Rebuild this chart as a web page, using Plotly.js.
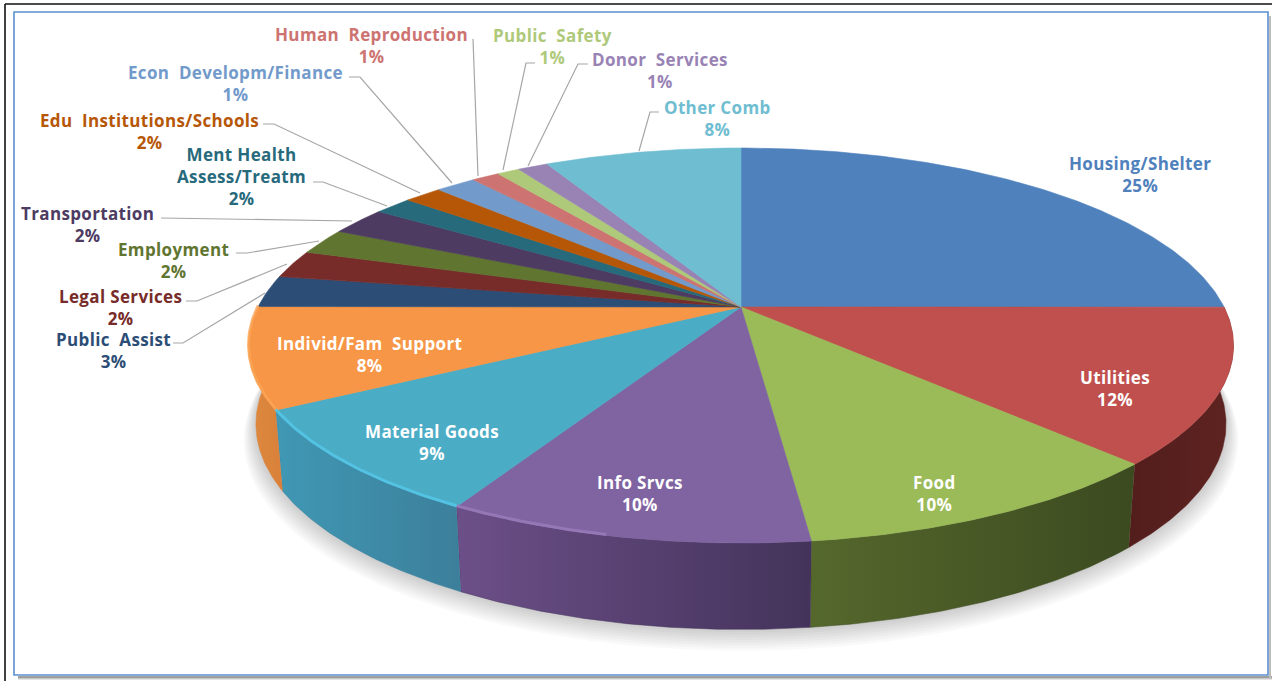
<!DOCTYPE html>
<html><head><meta charset="utf-8">
<script src="https://cdn.plot.ly/plotly-3.0.1.min.js"></script>
<style>html,body{margin:0;padding:0;background:#fff}
#chart{width:1272px;height:681px}
.annotation-text{letter-spacing:.35px}</style></head>
<body><div id="chart"></div>
<script>
// ---- data ----
const categories = ["Housing/Shelter","Utilities","Food","Info Srvcs","Material Goods","Individ/Fam  Support","Public  Assist","Legal Services","Employment","Transportation","Ment Health<br>Assess/Treatm","Edu  Institutions/Schools","Econ  Developm/Finance","Human  Reproduction","Public  Safety","Donor  Services","Other Comb"];
const shares = [25,12.6,10.5,10.0,8.7,8.2,2.6,2.3,2.15,2.3,1.5,1.5,1.6,1.1,0.9,1.2,7.8];
const percentLabels = ["25%","12%","10%","10%","9%","8%","3%","2%","2%","2%","2%","2%","1%","1%","1%","1%","8%"];
const sliceColors = ["#4F81BD","#C0504D","#9BBB59","#8064A2","#4BACC6","#F79646","#2C4D75","#772C2A","#5F7530","#4D3B62","#276A7C","#B65708","#729ACA","#CD7371","#AFC97A","#9983B5","#6FBDD1"];
const labelColors = ["#4F81BD","#FFFFFF","#FFFFFF","#FFFFFF","#FFFFFF","#FFFFFF","#2C4D75","#772C2A","#5F7530","#4D3B62","#276A7C","#B65708","#729ACA","#CD7371","#AFC97A","#9983B5","#6FBDD1"];
const wallLeft  = [null,"#521E1C","#55682C","#6C4F88","#4098B4","#DD8A3E",null,null,null,null,null,null,null,null,null,null,null];
const wallRight = [null,"#5E2321","#3C4A20","#43335A","#3C7F9B","#D9803A",null,null,null,null,null,null,null,null,null,null,null];
const rimColors = [null,null,null,"#9A7CBC","#55C8EA","#FBA556",null,null,null,null,null,null,null,null,null,null,null];
const rimSpan   = [0,0,0,0.45,1,1,0,0,0,0,0,0,0,0,0,0,0];

// ---- label layout (x, y centre of the label block; leader polylines) ----
const labelX = [1140,1115,934,640,432,369,113,120,173,87,241,149,235,371,552,660,717];
const labelY = [174,388,493,493,442,354,350,307,260,224,176,131,83,45,46,70,118];
const leaderX = [null,null,null,null,null,null,[173,183,265],[186,197,287],[236,247,319],[161,352],[313,323,387],[263,274,420],[349,360,452],[473,478],[535,526,503],[588,578,528],[659,650,639]];
const leaderY = [null,null,null,null,null,null,[343,343,293],[301,301,264],[253,253,241],[218,221],[182,182,206],[124,124,193],[77,77,183],[39,176],[63,63,170],[64,64,166],[112,112,151]];

// ---- projection of the tilted disc ----
const cx=741, cy=307, a=483, b=190, k=0.195;
function project(theta, drop, sx, sy, grow){
  const x=Math.sin(theta), y=Math.cos(theta), w=1+k*y;
  return [cx+(a*sx+grow)*x/w, cy+drop-(b*sy+grow*0.4)*y/w];
}
function arc(t0,t1,drop,sx,sy,grow){
  const n=Math.max(4,Math.ceil((t1-t0)/0.01)), pts=[];
  for(let i=0;i<=n;i++){pts.push(project(t0+(t1-t0)*i/n,drop,sx,sy,grow));}
  return pts;
}
const total=shares.reduce((s,v)=>s+v,0);
const traces=[];
const dropBase=77, baseSx=0.985, baseSy=1.04;
// soft shadow
for(let i=8;i>=1;i--){
  const p=arc(0,2*Math.PI,dropBase+i*1.9,baseSx,baseSy,i*1.5);
  traces.push({type:"scatter",mode:"none",x:p.map(q=>q[0]),y:p.map(q=>q[1]),fill:"toself",fillcolor:"rgba(0,0,0,0.022)",hoverinfo:"skip",showlegend:false});
}
// walls, then top faces
let acc=0; const starts=shares.map(v=>{const s=acc;acc+=v;return s;});
shares.forEach((v,i)=>{
  if(!wallLeft[i]) return;
  const t0=starts[i]/total*2*Math.PI,t1=(starts[i]+v)/total*2*Math.PI;
  const top=arc(t0,t1,0,1,1,0), bot=arc(t0,t1,dropBase,baseSx,baseSy,0).reverse(), p=top.concat(bot);
  traces.push({type:"scatter",mode:"lines",x:p.map(q=>q[0]),y:p.map(q=>q[1]),fill:"toself",
    line:{width:0.5,color:wallRight[i]},
    fillgradient:{type:"horizontal",colorscale:[[0,wallLeft[i]],[1,wallRight[i]]]},
    hoverinfo:"skip",showlegend:false});
});
shares.forEach((v,i)=>{
  const t0=starts[i]/total*2*Math.PI,t1=(starts[i]+v)/total*2*Math.PI;
  const p=[[cx,cy]].concat(arc(t0,t1,0,1,1,0)); p.push([cx,cy]);
  traces.push({type:"scatter",mode:"lines",name:categories[i],x:p.map(q=>q[0]),y:p.map(q=>q[1]),fill:"toself",
    fillcolor:sliceColors[i],line:{width:0.6,color:sliceColors[i]},hoverinfo:"skip",showlegend:false});
});
shares.forEach((v,i)=>{
  if(!rimColors[i]) return;
  const t1=(starts[i]+v)/total*2*Math.PI, t0=(starts[i]+v*(1-rimSpan[i]))/total*2*Math.PI;
  const p=arc(t0,t1,-1,1,1,0);
  traces.push({type:"scatter",mode:"lines",x:p.map(q=>q[0]),y:p.map(q=>q[1]),line:{width:3,color:rimColors[i]},opacity:0.8,hoverinfo:"skip",showlegend:false});
});
// leader lines
categories.forEach((c,i)=>{
  if(!leaderX[i]) return;
  traces.push({type:"scatter",mode:"lines",x:leaderX[i],y:leaderY[i],line:{width:1.2,color:"#A6A6A6"},hoverinfo:"skip",showlegend:false});
});
const annotations=categories.map((c,i)=>({
  x:labelX[i],y:labelY[i],xref:"x",yref:"y",showarrow:false,xanchor:"center",yanchor:"middle",align:"center",
  text:c+"<br>"+percentLabels[i],
  font:{family:"'Open Sans',sans-serif",size:17,color:labelColors[i],weight:700}
}));
const layout={
  width:1272,height:681,margin:{l:0,r:0,t:0,b:0},paper_bgcolor:"#fff",plot_bgcolor:"#fff",showlegend:false,
  xaxis:{range:[0,1272],visible:false,fixedrange:true},
  yaxis:{range:[681,0],visible:false,fixedrange:true},
  annotations,
  shapes:[
   {type:"line",x0:18,x1:1272,y0:678,y1:678,line:{color:"#C8C8C8",width:3},layer:"below"},
   {type:"line",x0:18,x1:1272,y0:677,y1:677,line:{color:"#8C8C8C",width:1.5},layer:"below"},
   {type:"line",x0:1270,x1:1270,y0:16,y1:678,line:{color:"#BDBDBD",width:2},layer:"below"},
   {type:"rect",x0:14,x1:1268,y0:12,y1:675,line:{color:"#5B8FD0",width:1.6},fillcolor:"#fff",layer:"below"},
   {type:"line",x0:5,x1:1272,y0:4,y1:4,line:{color:"#111",width:1.6}},
   {type:"line",x0:5,x1:5,y0:4,y1:681,line:{color:"#111",width:1.6}}
  ]
};
Plotly.newPlot("chart",traces,layout,{displayModeBar:false,staticPlot:true});
</script></body></html>
